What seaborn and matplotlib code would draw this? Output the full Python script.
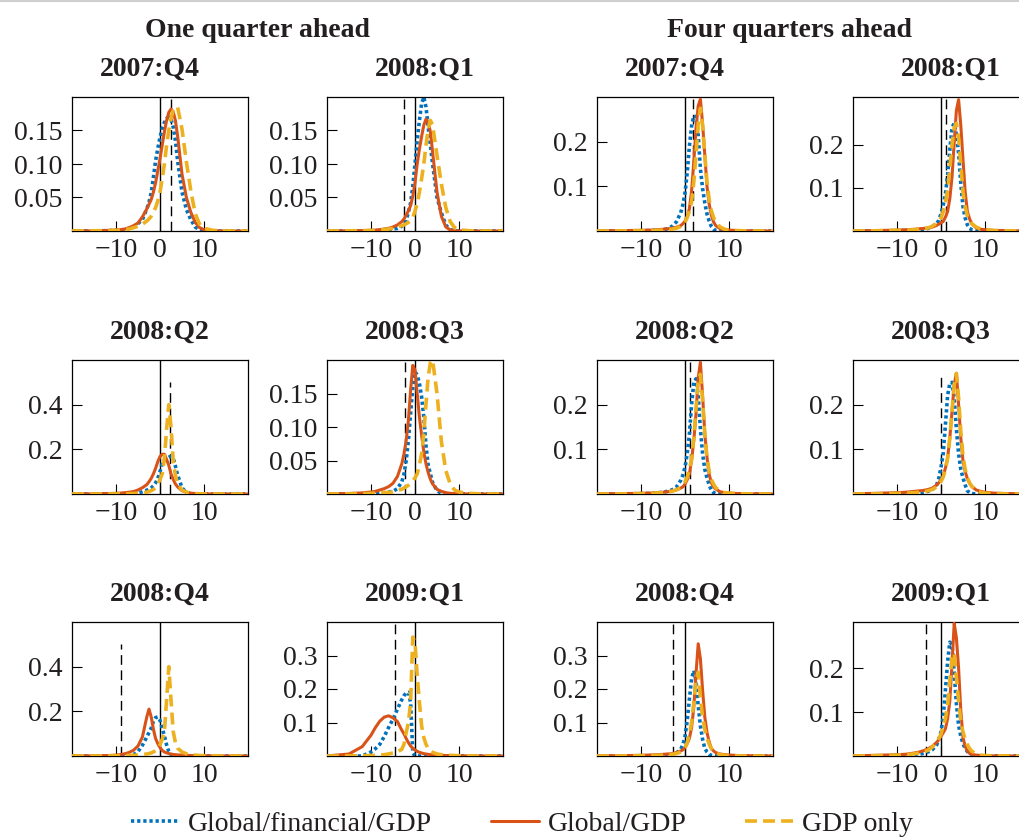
import matplotlib
matplotlib.use("Agg")
import matplotlib.pyplot as plt
import seaborn as sns
from matplotlib.lines import Line2D

# ---------------- data ----------------
TITLES = ["2007:Q4", "2008:Q1", "2008:Q2", "2008:Q3", "2008:Q4", "2009:Q1"]
GROUPS = ["One quarter ahead", "Four quarters ahead"]
LABELS = ["Global/financial/GDP", "Global/GDP", "GDP only"]
XTICKS = [-10, 0, 10]

# growth grid (percent) on which densities were read, one-quarter-ahead panels
X_H1 = [-20, -15, -12, -10, -9, -8, -7, -6, -5, -4,
        -3, -2.5, -2, -1.5, -1, -0.5, 0, 0.5, 1, 1.5,
        2, 2.5, 3, 3.5, 4, 5, 6, 7, 8, 9,
        10, 12, 15, 20]
# four-quarters-ahead panels
X_H4 = [-20, -15, -10, -8, -6, -5, -4, -3, -2, -1,
        -0.5, 0, 0.5, 1, 1.5, 2, 2.5, 3, 3.5, 4, 4.5, 5, 5.5, 6, 6.5, 7,
        8, 9, 10, 12, 15, 20]

# ---- one quarter ahead ----
h1_2007q4_gfg = [0, 0.0002, 0.0005, 0.001, 0.0015, 0.002, 0.004, 0.006, 0.011, 0.017,
                 0.033, 0.043, 0.057, 0.08, 0.105, 0.123, 0.14, 0.153, 0.162, 0.168,
                 0.17, 0.167, 0.155, 0.135, 0.105, 0.058, 0.032, 0.017, 0.006, 0.0015,
                 0.0004, 0, 0, 0]
h1_2007q4_glob = [0, 0.0003, 0.0008, 0.0015, 0.002, 0.003, 0.005, 0.008, 0.012, 0.021,
                  0.033, 0.04, 0.047, 0.058, 0.072, 0.09, 0.108, 0.128, 0.148, 0.165,
                  0.177, 0.182, 0.178, 0.165, 0.142, 0.085, 0.05, 0.028, 0.013, 0.005,
                  0.002, 0.0003, 0, 0]
h1_2007q4_gdp = [0, 0.0003, 0.0006, 0.001, 0.0015, 0.002, 0.003, 0.005, 0.007, 0.01,
                 0.015, 0.018, 0.022, 0.028, 0.035, 0.045, 0.058, 0.078, 0.1, 0.128,
                 0.15, 0.168, 0.18, 0.185, 0.185, 0.152, 0.103, 0.06, 0.026, 0.01,
                 0.004, 0.001, 0, 0]

h1_2008q1_gfg = [0, 0, 0.0001, 0.0003, 0.0005, 0.0008, 0.0012, 0.002, 0.003, 0.004,
                 0.007, 0.011, 0.016, 0.028, 0.042, 0.067, 0.1, 0.135, 0.165, 0.19,
                 0.2, 0.185, 0.155, 0.128, 0.1, 0.05, 0.027, 0.009, 0.002, 0.0005,
                 0.0001, 0, 0, 0]
h1_2008q1_glob = [0, 0.0003, 0.0006, 0.001, 0.0013, 0.002, 0.003, 0.004, 0.006, 0.009,
                  0.014, 0.018, 0.024, 0.03, 0.038, 0.052, 0.072, 0.1, 0.122, 0.141,
                  0.158, 0.167, 0.162, 0.148, 0.118, 0.058, 0.022, 0.006, 0.0015, 0.0004,
                  0.0001, 0, 0, 0]
h1_2008q1_gdp = [0, 0.0003, 0.0005, 0.0008, 0.001, 0.0015, 0.002, 0.003, 0.004, 0.006,
                 0.008, 0.009, 0.011, 0.013, 0.016, 0.02, 0.03, 0.041, 0.058, 0.078,
                 0.1, 0.128, 0.152, 0.165, 0.158, 0.113, 0.07, 0.035, 0.014, 0.005,
                 0.002, 0.0005, 0, 0]

h1_2008q2_gfg = [0, 0, 0.0002, 0.0005, 0.0008, 0.001, 0.0015, 0.003, 0.005, 0.01,
                 0.017, 0.021, 0.027, 0.037, 0.05, 0.07, 0.1, 0.135, 0.152, 0.16,
                 0.165, 0.168, 0.16, 0.125, 0.085, 0.028, 0.006, 0.001, 0.0002, 0,
                 0, 0, 0, 0]
h1_2008q2_glob = [0, 0.001, 0.002, 0.003, 0.004, 0.006, 0.008, 0.011, 0.018, 0.028,
                  0.042, 0.055, 0.07, 0.09, 0.115, 0.145, 0.168, 0.178, 0.178, 0.155,
                  0.128, 0.09, 0.065, 0.045, 0.032, 0.015, 0.008, 0.004, 0.002, 0.001,
                  0.0005, 0.0002, 0, 0]
h1_2008q2_gdp = [0, 0, 0.0003, 0.0005, 0.0007, 0.001, 0.0015, 0.002, 0.003, 0.005,
                 0.008, 0.011, 0.015, 0.02, 0.028, 0.045, 0.065, 0.09, 0.16, 0.29,
                 0.4, 0.3, 0.15, 0.085, 0.045, 0.018, 0.008, 0.004, 0.002, 0.001,
                 0.0006, 0.0002, 0, 0]

h1_2008q3_gfg = [0, 0, 0.0003, 0.0006, 0.001, 0.0015, 0.002, 0.003, 0.004, 0.008,
                 0.018, 0.03, 0.05, 0.08, 0.12, 0.16, 0.182, 0.178, 0.165, 0.145,
                 0.115, 0.072, 0.043, 0.03, 0.017, 0.005, 0.001, 0.0002, 0, 0,
                 0, 0, 0, 0]
h1_2008q3_glob = [0.0002, 0.0008, 0.0017, 0.003, 0.004, 0.006, 0.008, 0.011, 0.016, 0.026,
                  0.045, 0.06, 0.08, 0.11, 0.155, 0.192, 0.185, 0.15, 0.115, 0.088,
                  0.063, 0.045, 0.032, 0.022, 0.015, 0.007, 0.004, 0.002, 0.001, 0.0006,
                  0.0004, 0.0001, 0, 0]
h1_2008q3_gdp = [0, 0.0003, 0.0006, 0.001, 0.0013, 0.0017, 0.002, 0.0025, 0.003, 0.005,
                 0.007, 0.009, 0.011, 0.013, 0.016, 0.02, 0.024, 0.03, 0.043, 0.06,
                 0.09, 0.135, 0.175, 0.196, 0.2, 0.15, 0.078, 0.035, 0.015, 0.006,
                 0.003, 0.001, 0.0002, 0]

h1_2008q4_gfg = [0, 0, 0, 0.0003, 0.0005, 0.001, 0.002, 0.006, 0.02, 0.048,
                 0.085, 0.105, 0.125, 0.155, 0.172, 0.175, 0.16, 0.125, 0.09, 0.05,
                 0.02, 0.006, 0.002, 0.0005, 0, 0, 0, 0, 0, 0,
                 0, 0, 0, 0]
h1_2008q4_glob = [0.0003, 0.001, 0.002, 0.004, 0.006, 0.01, 0.016, 0.026, 0.045, 0.085,
                  0.175, 0.21, 0.175, 0.12, 0.078, 0.055, 0.038, 0.025, 0.018, 0.014,
                  0.011, 0.009, 0.007, 0.006, 0.005, 0.004, 0.003, 0.002, 0.0015, 0.001,
                  0.0008, 0.0005, 0.0002, 0]
h1_2008q4_gdp = [0, 0.0002, 0.0005, 0.001, 0.0013, 0.0018, 0.0025, 0.003, 0.004, 0.006,
                 0.009, 0.011, 0.014, 0.018, 0.025, 0.035, 0.05, 0.075, 0.11, 0.25,
                 0.4, 0.25, 0.11, 0.06, 0.035, 0.018, 0.01, 0.006, 0.004, 0.002,
                 0.0015, 0.0008, 0.0003, 0]

h1_2009q1_gfg = [0, 0, 0, 0.012, 0.022, 0.035, 0.058, 0.085, 0.11, 0.14,
                 0.168, 0.18, 0.188, 0.19, 0.16, 0.01, 0, 0, 0, 0,
                 0, 0, 0, 0, 0, 0, 0, 0, 0, 0,
                 0, 0, 0, 0]
h1_2009q1_glob = [0.0003, 0.006, 0.028, 0.062, 0.085, 0.104, 0.116, 0.12, 0.114, 0.103,
                  0.077, 0.066, 0.052, 0.04, 0.03, 0.023, 0.018, 0.014, 0.011, 0.009,
                  0.007, 0.006, 0.005, 0.004, 0.0035, 0.0025, 0.002, 0.0015, 0.001, 0.0008,
                  0.0005, 0.0003, 0.0001, 0]
h1_2009q1_gdp = [0, 0.0003, 0.0008, 0.0015, 0.002, 0.003, 0.004, 0.006, 0.009, 0.012,
                 0.02, 0.035, 0.07, 0.1, 0.16, 0.355, 0.34, 0.24, 0.16, 0.09,
                 0.055, 0.035, 0.022, 0.015, 0.011, 0.006, 0.004, 0.003, 0.002, 0.0015,
                 0.001, 0.0005, 0.0002, 0]

# ---- four quarters ahead ----
h4_2007q4_gfg = [0, 0.0002, 0.0006, 0.001, 0.002, 0.003, 0.005, 0.01, 0.02, 0.04,
                 0.058, 0.085, 0.13, 0.19, 0.235, 0.258, 0.255, 0.215, 0.14, 0.095,
                 0.063, 0.038, 0.022, 0.01, 0.004, 0.0015,
                 0.0003, 0, 0, 0, 0, 0]
h4_2007q4_glob = [0.0003, 0.0008, 0.0015, 0.002, 0.003, 0.004, 0.005, 0.006, 0.008, 0.012,
                  0.016, 0.022, 0.032, 0.05, 0.09, 0.155, 0.23, 0.28, 0.295, 0.24,
                  0.17, 0.1, 0.06, 0.035, 0.02, 0.012,
                  0.005, 0.003, 0.002, 0.001, 0.0005, 0]
h4_2007q4_gdp = [0, 0.0003, 0.0008, 0.001, 0.0015, 0.002, 0.003, 0.004, 0.006, 0.01,
                 0.014, 0.02, 0.03, 0.045, 0.065, 0.11, 0.17, 0.24, 0.275, 0.235,
                 0.17, 0.11, 0.07, 0.045, 0.03, 0.02,
                 0.009, 0.004, 0.002, 0.0008, 0.0002, 0]

h4_2008q1_gfg = [0, 0.0001, 0.0005, 0.001, 0.002, 0.003, 0.004, 0.006, 0.01, 0.017,
                 0.025, 0.04, 0.06, 0.085, 0.13, 0.188, 0.24, 0.25, 0.225, 0.18,
                 0.11, 0.056, 0.03, 0.014, 0.006, 0.003,
                 0.0008, 0.0002, 0, 0, 0, 0]
h4_2008q1_glob = [0.0003, 0.001, 0.002, 0.003, 0.004, 0.005, 0.006, 0.007, 0.009, 0.013,
                  0.016, 0.019, 0.022, 0.032, 0.045, 0.075, 0.125, 0.205, 0.28, 0.305,
                  0.245, 0.165, 0.09, 0.045, 0.028, 0.017,
                  0.007, 0.004, 0.003, 0.0015, 0.0008, 0]
h4_2008q1_gdp = [0, 0.0005, 0.0015, 0.002, 0.003, 0.004, 0.005, 0.007, 0.011, 0.018,
                 0.022, 0.03, 0.045, 0.065, 0.095, 0.145, 0.2, 0.24, 0.25, 0.215,
                 0.155, 0.09, 0.055, 0.035, 0.024, 0.017,
                 0.009, 0.005, 0.003, 0.001, 0.0004, 0]

h4_2008q2_gfg = [0, 0.0002, 0.0008, 0.0015, 0.003, 0.004, 0.006, 0.009, 0.015, 0.03,
                 0.042, 0.06, 0.09, 0.134, 0.2, 0.25, 0.258, 0.22, 0.145, 0.09,
                 0.055, 0.036, 0.02, 0.008, 0.003, 0.001,
                 0.0002, 0, 0, 0, 0, 0]
h4_2008q2_glob = [0.0003, 0.0008, 0.0015, 0.002, 0.003, 0.004, 0.005, 0.007, 0.009, 0.013,
                  0.016, 0.022, 0.032, 0.045, 0.075, 0.12, 0.18, 0.26, 0.295, 0.22,
                  0.135, 0.082, 0.044, 0.025, 0.016, 0.011,
                  0.005, 0.003, 0.002, 0.001, 0.0005, 0]
h4_2008q2_gdp = [0, 0.0003, 0.001, 0.0015, 0.0025, 0.003, 0.004, 0.006, 0.009, 0.015,
                 0.02, 0.027, 0.038, 0.055, 0.078, 0.125, 0.19, 0.255, 0.268, 0.21,
                 0.134, 0.081, 0.05, 0.032, 0.022, 0.014,
                 0.006, 0.003, 0.002, 0.0008, 0.0003, 0]

h4_2008q3_gfg = [0, 0.0002, 0.0006, 0.001, 0.002, 0.003, 0.004, 0.006, 0.009, 0.02,
                 0.035, 0.06, 0.09, 0.155, 0.22, 0.248, 0.25, 0.215, 0.145, 0.09,
                 0.055, 0.036, 0.02, 0.007, 0.003, 0.001,
                 0.0002, 0, 0, 0, 0, 0]
h4_2008q3_glob = [0.0005, 0.0015, 0.003, 0.004, 0.006, 0.007, 0.008, 0.01, 0.013, 0.02,
                  0.025, 0.032, 0.04, 0.058, 0.08, 0.125, 0.185, 0.245, 0.27, 0.2,
                  0.125, 0.074, 0.05, 0.034, 0.024, 0.017,
                  0.009, 0.006, 0.004, 0.002, 0.001, 0]
h4_2008q3_gdp = [0, 0.0005, 0.0015, 0.002, 0.003, 0.004, 0.005, 0.007, 0.01, 0.016,
                 0.021, 0.028, 0.038, 0.055, 0.08, 0.125, 0.185, 0.245, 0.27, 0.215,
                 0.14, 0.085, 0.055, 0.036, 0.025, 0.017,
                 0.008, 0.004, 0.002, 0.001, 0.0003, 0]

h4_2008q4_gfg = [0, 0, 0.0003, 0.0006, 0.001, 0.0015, 0.002, 0.003, 0.008, 0.02,
                 0.033, 0.058, 0.105, 0.17, 0.23, 0.255, 0.225, 0.15, 0.09, 0.05,
                 0.023, 0.012, 0.005, 0.002, 0.001, 0.0005,
                 0, 0, 0, 0, 0, 0]
h4_2008q4_glob = [0.0003, 0.001, 0.002, 0.003, 0.004, 0.005, 0.006, 0.007, 0.01, 0.015,
                  0.018, 0.025, 0.037, 0.053, 0.085, 0.145, 0.245, 0.335, 0.29, 0.196,
                  0.116, 0.07, 0.042, 0.022, 0.015, 0.01,
                  0.006, 0.004, 0.003, 0.0015, 0.0008, 0]
h4_2008q4_gdp = [0, 0.0003, 0.001, 0.0015, 0.002, 0.003, 0.004, 0.005, 0.007, 0.012,
                 0.016, 0.025, 0.04, 0.065, 0.1, 0.16, 0.225, 0.25, 0.176, 0.115,
                 0.08, 0.055, 0.035, 0.022, 0.014, 0.009,
                 0.004, 0.002, 0.001, 0.0005, 0.0002, 0]

h4_2009q1_gfg = [0, 0.0002, 0.0008, 0.0015, 0.003, 0.004, 0.006, 0.009, 0.014, 0.025,
                 0.038, 0.055, 0.09, 0.15, 0.215, 0.26, 0.255, 0.19, 0.119, 0.07,
                 0.045, 0.028, 0.017, 0.01, 0.006, 0.003,
                 0.001, 0.0003, 0, 0, 0, 0]
h4_2009q1_glob = [0.0005, 0.0015, 0.003, 0.004, 0.007, 0.009, 0.012, 0.016, 0.022, 0.031,
                  0.037, 0.045, 0.053, 0.062, 0.085, 0.125, 0.21, 0.303, 0.27, 0.2,
                  0.104, 0.042, 0.022, 0.011, 0.006, 0.004,
                  0.002, 0.001, 0.0007, 0.0003, 0.0001, 0]
h4_2009q1_gdp = [0, 0.0008, 0.002, 0.003, 0.005, 0.007, 0.009, 0.013, 0.02, 0.032,
                 0.04, 0.05, 0.068, 0.085, 0.115, 0.17, 0.225, 0.235, 0.18, 0.125,
                 0.08, 0.055, 0.038, 0.026, 0.017, 0.011,
                 0.005, 0.002, 0.001, 0.0005, 0.0002, 0]

# realized GDP growth (dashed line) and its drawn height
REALIZED_H1 = [2.4, -2.4, 2.2, -2.3, -8.9, -4.5]
REALIZED_H4 = [1.9, 1.15, 1.1, -0.05, -2.7, -3.5]
REAL_TOP_H1 = [0.2, 0.2, 0.5, 0.2, 0.5, 0.4]
REAL_TOP_H4 = [0.3, 0.311, 0.3, 0.274, 0.4, 0.306]
YMAX_H1 = [0.2, 0.2, 0.6, 0.2, 0.6, 0.4]
YMAX_H4 = [0.3, 0.311, 0.3, 0.3, 0.4, 0.306]
YTICKS_H1 = [[0.05, 0.10, 0.15], [0.05, 0.10, 0.15], [0.2, 0.4],
             [0.05, 0.10, 0.15], [0.2, 0.4], [0.1, 0.2, 0.3]]
YTICKS_H4 = [[0.1, 0.2], [0.1, 0.2], [0.1, 0.2], [0.1, 0.2], [0.1, 0.2, 0.3], [0.1, 0.2]]
ZERO_LINE_H4 = [True, True, True, False, True, True]

H1_SERIES = [(h1_2007q4_gfg, h1_2007q4_glob, h1_2007q4_gdp),
             (h1_2008q1_gfg, h1_2008q1_glob, h1_2008q1_gdp),
             (h1_2008q2_gfg, h1_2008q2_glob, h1_2008q2_gdp),
             (h1_2008q3_gfg, h1_2008q3_glob, h1_2008q3_gdp),
             (h1_2008q4_gfg, h1_2008q4_glob, h1_2008q4_gdp),
             (h1_2009q1_gfg, h1_2009q1_glob, h1_2009q1_gdp)]
H4_SERIES = [(h4_2007q4_gfg, h4_2007q4_glob, h4_2007q4_gdp),
             (h4_2008q1_gfg, h4_2008q1_glob, h4_2008q1_gdp),
             (h4_2008q2_gfg, h4_2008q2_glob, h4_2008q2_gdp),
             (h4_2008q3_gfg, h4_2008q3_glob, h4_2008q3_gdp),
             (h4_2008q4_gfg, h4_2008q4_glob, h4_2008q4_gdp),
             (h4_2009q1_gfg, h4_2009q1_glob, h4_2009q1_gdp)]

# ---------------- style ----------------
sns.set_theme(style="white")
plt.rcParams["font.family"] = ["Liberation Serif", "DejaVu Serif"]
plt.rcParams["axes.unicode_minus"] = True
TXT = "#231f20"

COLORS = ["#0072BD", "#D95319", "#EDB120"]
STYLES = [(0, (0.9, 0.8)), "-", (0, (3.3, 1.7))]
WIDTHS = [2.6, 2.2, 2.6]

FIG_W, FIG_H = 1020, 838
COL_LEFT = [72, 327, 597, 853]
ROW_TOP = [97, 360, 622]
AX_W, AX_H = 176, 134
TITLE_X = [[0.44, 0.555], [0.5, 0.5], [0.5, 0.5]]

fig = plt.figure(figsize=(FIG_W / 100, FIG_H / 100), dpi=100)

legend_handles = None
for h, (X, series, real, rtop, ymax, yticks) in enumerate([
        (X_H1, H1_SERIES, REALIZED_H1, REAL_TOP_H1, YMAX_H1, YTICKS_H1),
        (X_H4, H4_SERIES, REALIZED_H4, REAL_TOP_H4, YMAX_H4, YTICKS_H4)]):
    for i in range(6):
        row, sub = divmod(i, 2)
        col = 2 * h + sub
        rect = [COL_LEFT[col] / FIG_W, (FIG_H - ROW_TOP[row] - AX_H) / FIG_H,
                AX_W / FIG_W, AX_H / FIG_H]
        ax = fig.add_axes(rect)
        # reference lines
        if h == 0 or ZERO_LINE_H4[i]:
            ax.axvline(0, color="black", lw=1.0, zorder=1)
        ax.vlines(real[i], 0, rtop[i], colors="black", lw=1.0,
                  linestyles=[(0, (7, 4))], zorder=1)
        lines = []
        for k, vals in enumerate(series[i]):
            if len(vals) != len(X):
                raise ValueError(f"length mismatch h={h} i={i} k={k}: {len(vals)}")
            sns.lineplot(x=X, y=vals, ax=ax, color=COLORS[k], linestyle=STYLES[k],
                         linewidth=WIDTHS[k], estimator=None, errorbar=None,
                         legend=False, zorder=2 + k)
            lines.append(ax.get_lines()[-1])
        if legend_handles is None:
            legend_handles = lines
        ax.set_xlim(-20, 20)
        ax.set_ylim(0, ymax[i])
        ax.set_xticks(XTICKS)
        ax.set_yticks(yticks[i], [f"{v:.2f}" if yticks[i][0] == 0.05 else f"{v:.1f}"
                                  for v in yticks[i]])
        ax.set_xlabel("")
        ax.set_ylabel("")
        ax.tick_params(direction="in", length=7, width=0.8, labelsize=20,
                       colors="black", labelcolor=TXT, top=False, right=False,
                       bottom=True, left=True)
        ax.tick_params(axis="x", pad=5)
        ax.tick_params(axis="y", pad=7)
        for s in ax.spines.values():
            s.set_color("black")
            s.set_linewidth(0.9)
        ax.set_title(TITLES[i], fontsize=20, fontweight="bold", pad=15,
                     x=TITLE_X[row][sub], color=TXT)

# group headings
fig.text(258 / FIG_W, 1 - 37 / FIG_H, GROUPS[0], ha="center", va="baseline",
         fontsize=20, fontweight="bold", color=TXT)
fig.text(790 / FIG_W, 1 - 37 / FIG_H, GROUPS[1], ha="center", va="baseline",
         fontsize=20, fontweight="bold", color=TXT)

# thin rule at the very top
fig.add_artist(Line2D([0, 1], [1 - 1 / FIG_H, 1 - 1 / FIG_H], transform=fig.transFigure,
                      color="#cfcfcf", lw=1.5))

fig.legend(legend_handles, LABELS, loc="center", bbox_to_anchor=(522 / FIG_W, 14 / FIG_H),
           ncol=3, frameon=False, fontsize=20, handlelength=1.76, handletextpad=0.3,
           columnspacing=2.1, borderpad=0, borderaxespad=0, labelcolor=TXT)

fig.savefig("out.png", dpi=100)
